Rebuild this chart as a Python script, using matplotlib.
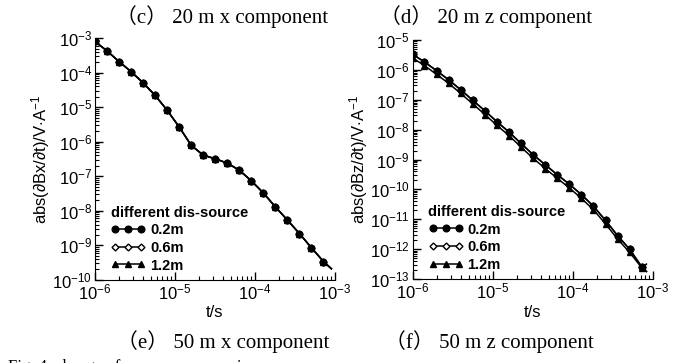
import numpy as np
import matplotlib
matplotlib.use("Agg")
import matplotlib.pyplot as plt
from matplotlib.ticker import LogLocator, NullFormatter

plt.rcParams['font.family'] = ['Liberation Sans', 'DejaVu Sans']
plt.rcParams['mathtext.fontset'] = 'custom'
plt.rcParams['mathtext.rm'] = 'Liberation Sans'
plt.rcParams['mathtext.it'] = 'Liberation Sans:italic'
plt.rcParams['mathtext.bf'] = 'Liberation Sans:bold'

# temps (s) : 20 points + fin de courbe sans marqueur
t = [1.0e-6, 1.41e-6, 2.0e-6, 2.83e-6, 4.0e-6, 5.66e-6, 8.0e-6, 1.13e-5, 1.6e-5, 2.26e-5,
     3.2e-5, 4.53e-5, 6.4e-5, 9.05e-5, 1.28e-4, 1.81e-4, 2.56e-4, 3.62e-4, 5.12e-4, 7.24e-4]
t_end_x = 9.1e-4
t_end_z = 8.3e-4

# composante x (les trois courbes se superposent)
bx_02 = [8.0e-4, 4.3e-4, 2.1e-4, 1.07e-4, 5.1e-5, 2.2e-5, 8.2e-6, 2.7e-6, 7.9e-7, 4.1e-7,
         3.2e-7, 2.4e-7, 1.5e-7, 7.4e-8, 3.3e-8, 1.3e-8, 5.4e-9, 2.2e-9, 8.5e-10, 3.4e-10, 2.1e-10]
bx_06 = [8.0e-4, 4.3e-4, 2.1e-4, 1.07e-4, 5.1e-5, 2.2e-5, 8.2e-6, 2.7e-6, 7.9e-7, 4.1e-7,
         3.2e-7, 2.4e-7, 1.5e-7, 7.4e-8, 3.3e-8, 1.3e-8, 5.4e-9, 2.2e-9, 8.5e-10, 3.4e-10, 2.1e-10]
bx_12 = [8.0e-4, 4.3e-4, 2.1e-4, 1.07e-4, 5.1e-5, 2.2e-5, 8.2e-6, 2.7e-6, 7.9e-7, 4.1e-7,
         3.2e-7, 2.4e-7, 1.5e-7, 7.4e-8, 3.3e-8, 1.3e-8, 5.4e-9, 2.2e-9, 8.5e-10, 3.4e-10, 2.1e-10]

# composante z
bz_02 = [3.3e-6, 1.84e-6, 9.3e-7, 4.6e-7, 2.14e-7, 9.5e-8, 4.25e-8, 1.84e-8, 8.3e-9, 3.45e-9,
         1.45e-9, 6.7e-10, 3.1e-10, 1.5e-10, 6.7e-11, 2.75e-11, 9.2e-12, 2.85e-12, 1.0e-12, 2.6e-13, 1.8e-13]
bz_06 = [3.3e-6, 1.84e-6, 9.3e-7, 4.6e-7, 2.14e-7, 9.5e-8, 4.25e-8, 1.84e-8, 8.3e-9, 3.45e-9,
         1.45e-9, 6.7e-10, 3.1e-10, 1.5e-10, 6.7e-11, 2.75e-11, 9.2e-12, 2.85e-12, 1.0e-12, 2.6e-13, 1.8e-13]
bz_12 = [2.5e-6, 1.39e-6, 7.0e-7, 3.5e-7, 1.62e-7, 7.2e-8, 3.2e-8, 1.39e-8, 6.3e-9, 2.6e-9,
         1.1e-9, 5.0e-10, 2.35e-10, 1.13e-10, 5.0e-11, 2.1e-11, 7.0e-12, 2.2e-12, 7.8e-13, 2.4e-13, 3.2e-13]

labels = ["0.2m", "0.6m", "1.2m"]
legend_title = "different dis-source"

fig = plt.figure(figsize=(6.83, 3.63), dpi=100)
ax1 = fig.add_axes([0.139, 0.229, 0.351, 0.666])
ax2 = fig.add_axes([0.604, 0.231, 0.352, 0.659])

n = len(t)


def draw(ax, tt, series, ylim, ylabel):
    tx = t + [tt]
    styles = [
        dict(marker='^', mfc='black', mec='black'),
        dict(marker='D', mfc='white', mec='black', ms=3.5),
        dict(marker='o', mfc='black', mec='black'),
    ]
    handles = []
    for y, st, lab in zip(series[::-1], styles, labels[::-1]):
        kw = dict(ms=4.8, lw=1.1)
        kw.update(st)
        h, = ax.plot(tx, y, color='black', markevery=list(range(n)), label=lab, **kw)
        handles.append(h)
    ax.set_xscale('log')
    ax.set_yscale('log')
    ax.set_xlim(1e-6, 1e-3)
    ax.set_ylim(*ylim)
    ax.spines['top'].set_visible(False)
    ax.spines['right'].set_visible(False)
    ax.xaxis.set_major_locator(LogLocator(base=10, numticks=10))
    ax.xaxis.set_minor_locator(LogLocator(base=10, subs=np.arange(2, 10), numticks=100))
    ax.yaxis.set_major_locator(LogLocator(base=10, numticks=20))
    ax.yaxis.set_minor_locator(LogLocator(base=10, subs=np.arange(2, 10), numticks=100))
    ax.xaxis.set_minor_formatter(NullFormatter())
    ax.yaxis.set_minor_formatter(NullFormatter())
    ax.tick_params(which='major', direction='in', length=6, width=1, labelsize=12, pad=2)
    ax.tick_params(which='minor', direction='in', length=3, width=0.8)
    ax.set_xlabel("t/s", fontsize=12, labelpad=2)
    ax.set_ylabel(ylabel, fontsize=12, labelpad=0)
    leg = ax.legend(handles[::-1], labels, title=legend_title, loc='lower left',
                    bbox_to_anchor=(0.035, 0.0), frameon=False, numpoints=3,
                    handlelength=2.4, handletextpad=0.3, borderpad=0, labelspacing=0.25,
                    prop={'weight': 'bold', 'size': 10.5},
                    title_fontproperties={'weight': 'bold', 'size': 10.5},
                    alignment='left')
    return leg


draw(ax1, t_end_x, [bx_02, bx_06, bx_12], (1e-10, 1e-3), r"abs($\partial$Bx/$\partial$t)/V$\cdot$A$^{-1}$")
draw(ax2, t_end_z, [bz_02, bz_06, bz_12], (1e-13, 1e-5), r"abs($\partial$Bz/$\partial$t)/V$\cdot$A$^{-1}$")

serif = ['Liberation Serif', 'Noto Sans CJK SC']
fig.text(0.325, 0.955, "（c） 20 m x component", ha='center', va='center', fontsize=15, family=serif)
fig.text(0.712, 0.955, "（d） 20 m z component", ha='center', va='center', fontsize=15, family=serif)
fig.text(0.327, 0.058, "（e） 50 m x component", ha='center', va='center', fontsize=15, family=serif)
fig.text(0.717, 0.058, "（f） 50 m z component", ha='center', va='center', fontsize=15, family=serif)
fig.text(0.012, -0.012, "Fig. 4  change of response comparison", ha='left', va='center', fontsize=12, family=serif)

fig.savefig("out.png", dpi=100)
